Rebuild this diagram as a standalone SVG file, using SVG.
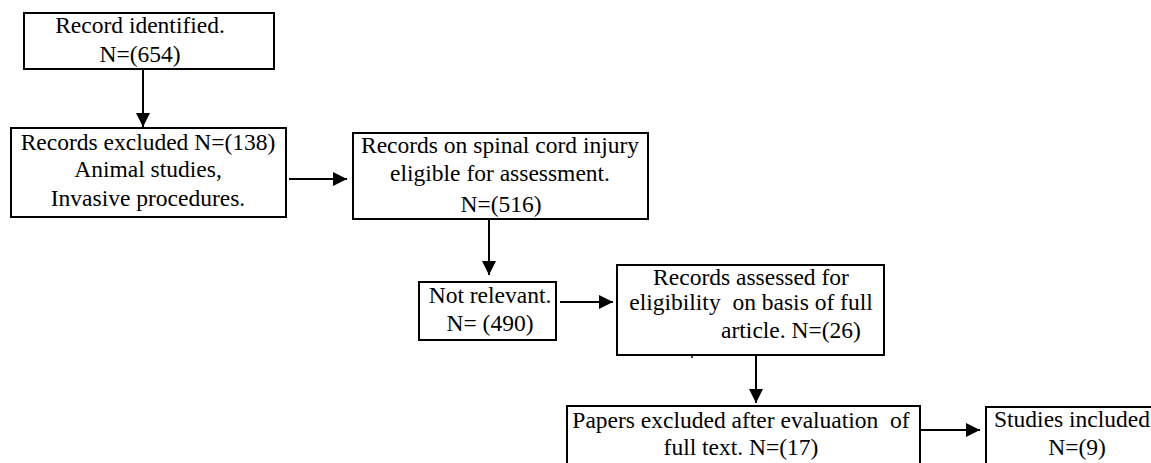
<svg xmlns="http://www.w3.org/2000/svg" width="1151" height="463" viewBox="0 0 1151 463">
  <style>
    .box { fill: #ffffff; stroke: #000000; stroke-width: 2; }
    .lbl { font-size: 23.5px; fill: #000000; text-anchor: middle; white-space: pre; }
    .conn { stroke: #000000; stroke-width: 2; fill: none; marker-end: url(#head); }
  </style>
  <defs>
    <marker id="head" markerUnits="userSpaceOnUse" markerWidth="14" markerHeight="14" refX="14" refY="7" orient="auto">
      <path d="M0,0 L14,7 L0,14 Z" fill="#000000"/>
    </marker>
  </defs>
  <rect width="1151" height="463" fill="#ffffff"/>

  <!-- connectors -->
  <g id="connectors">
    <line class="conn" x1="143" y1="69" x2="143" y2="127"/>
    <line class="conn" x1="289" y1="179" x2="347" y2="179"/>
    <line class="conn" x1="489" y1="219" x2="489" y2="275"/>
    <line class="conn" x1="560" y1="302" x2="613" y2="302"/>
    <line class="conn" x1="756" y1="355" x2="756" y2="403"/>
    <line class="conn" x1="920" y1="430" x2="980" y2="430"/>
  </g>

  <g font-family="'Liberation Serif', 'Times New Roman', Times, 'DejaVu Serif', serif">
    <g id="identified">
      <rect class="box" x="24" y="13" width="250" height="56"/>
      <text class="lbl" x="140" y="33">Record identified.</text>
      <text class="lbl" x="140" y="62">N=(654)</text>
    </g>

    <g id="excluded">
      <rect class="box" x="11" y="128" width="275" height="89"/>
      <text class="lbl" x="148" y="150">Records excluded N=(138)</text>
      <text class="lbl" x="148" y="177">Animal studies,</text>
      <text class="lbl" x="148" y="206">Invasive procedures.</text>
    </g>

    <g id="eligible">
      <rect class="box" x="353" y="133" width="295" height="86"/>
      <text class="lbl" x="500" y="153">Records on spinal cord injury</text>
      <text class="lbl" x="500" y="181">eligible for assessment.</text>
      <text class="lbl" x="501" y="212">N=(516)</text>
    </g>

    <g id="not-relevant">
      <rect class="box" x="419" y="282" width="137" height="58"/>
      <text class="lbl" x="490" y="303">Not relevant.</text>
      <text class="lbl" x="490" y="331">N= (490)</text>
    </g>

    <g id="assessed">
      <rect class="box" x="617" y="265" width="267" height="90"/>
      <line x1="692" y1="355" x2="692" y2="358" stroke="#000000" stroke-width="1.5"/>
      <text class="lbl" x="751" y="285">Records assessed for</text>
      <text class="lbl" x="751" y="310">eligibility  on basis of full</text>
      <text class="lbl" x="791" y="338">article. N=(26)</text>
    </g>

    <g id="papers-excluded">
      <rect class="box" x="567" y="406" width="353" height="70"/>
      <text class="lbl" x="741" y="428">Papers excluded after evaluation  of</text>
      <text class="lbl" x="741" y="455">full text. N=(17)</text>
    </g>

    <g id="included">
      <rect class="box" x="986" y="407" width="180" height="70"/>
      <text class="lbl" x="1072" y="427">Studies included</text>
      <text class="lbl" x="1077" y="455">N=(9)</text>
    </g>
  </g>
</svg>
